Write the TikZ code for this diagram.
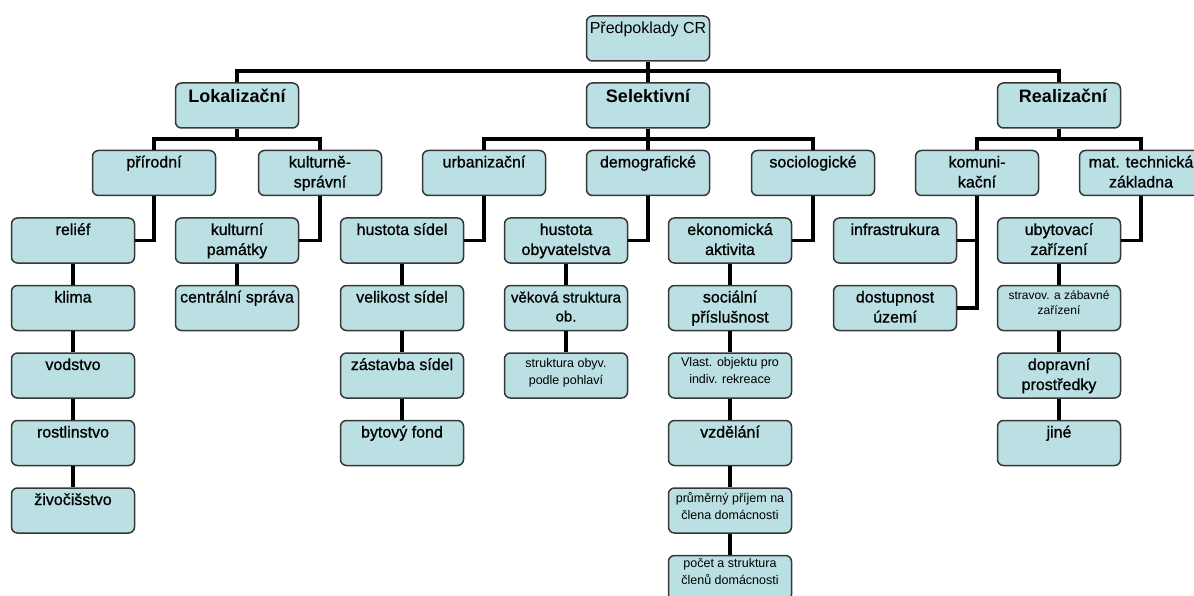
\documentclass[tikz,border=0pt]{standalone}
\usepackage{fontspec}
\setmainfont{Liberation Sans}
\newfontfamily\cellfont{Liberation Sans}[FakeBold=0.9]
\usepackage{tikz}
\definecolor{boxfill}{RGB}{186,224,227}
\definecolor{boxline}{RGB}{55,55,55}
\tikzstyle{cell}=[draw=boxline,fill=boxfill,line width=1.5pt,rounded corners=6pt,
                  inner sep=0pt,minimum width=123pt,minimum height=45pt,
                  font=\cellfont\fontsize{16}{20}\selectfont]
\tikzstyle{headcell}=[cell,font=\bfseries\fontsize{18}{22}\selectfont]
\tikzstyle{midcell}=[cell,font=\cellfont\fontsize{15}{19}\selectfont]
\tikzstyle{smallcell}=[cell,font=\fontsize{12.5}{17}\selectfont]
\tikzstyle{link}=[draw=black,line width=3.2pt]
\newcommand{\txt}[2][17pt]{\parbox[c][45pt][t]{119pt}{\centering\rule{0pt}{#1}#2}}

\begin{document}
\begin{tikzpicture}[x=1pt,y=-1pt]
    \useasboundingbox (0,0) rectangle (1194,596);
    \clip (0,0) rectangle (1194,596);
    % top levels
    \node (root) at (648,38.5) [cell,font=\fontsize{16}{20}\selectfont]{\txt[18pt]{Předpoklady CR}};
    \node (lok)  at (237,105.5) [headcell]{\txt[20pt]{Lokalizační}};
    \node (sel)  at (648,105.5) [headcell]{\txt[20pt]{Selektivní}};
    \node (real) at (1059,105.5) [headcell]{\txt[20pt]{\hspace*{8pt}Realizační}};
    \node (prir) at (154,173) [cell]{\txt{přírodní}};
    \node (kult) at (320,173) [cell]{\txt{kulturně-\\správní}};
    \node (urb)  at (484,173) [cell]{\txt{urbanizační}};
    \node (demo) at (648,173) [cell]{\txt{demografické}};
    \node (soc)  at (813,173) [cell]{\txt{sociologické}};
    \node (komu) at (977,173) [cell]{\txt{komuni-\\kační}};
    \node (mat)  at (1141,173) [cell]{\txt{mat. technická\\základna}};
    % columns
    \node (relief) at (73,240.5) [cell]{\txt{reliéf}};
    \node (klima)  at (73,308) [cell]{\txt{klima}};
    \node (vodstvo) at (73,375.5) [cell]{\txt{vodstvo}};
    \node (rostl)  at (73,443) [cell]{\txt{rostlinstvo}};
    \node (zivoc)  at (73,510.5) [cell]{\txt{živočišstvo}};
    \node (kpam) at (237,240.5) [cell]{\txt{kulturní\\památky}};
    \node (cspr) at (237,308) [cell]{\txt{centrální správa}};
    \node (hsid) at (402,240.5) [cell]{\txt{hustota sídel}};
    \node (vsid) at (402,308) [cell]{\txt{velikost sídel}};
    \node (zsid) at (402,375.5) [cell]{\txt{zástavba sídel}};
    \node (byt)  at (402,443) [cell]{\txt{bytový fond}};
    \node (hobyv) at (566,240.5) [cell]{\txt{hustota\\obyvatelstva}};
    \node (vek)   at (566,308) [midcell]{\txt{věková struktura\\ob.}};
    \node (pohl)  at (566,375.5) [smallcell]{\txt[14pt]{struktura obyv.\\podle pohlaví}};
    \node (ekon)   at (730,240.5) [cell]{\txt{ekonomická\\aktivita}};
    \node (socp)   at (730,308) [cell]{\txt{sociální\\příslušnost}};
    \node (vlast)  at (730,375.5) [smallcell]{\txt[13pt]{Vlast. objektu pro\\indiv. rekreace}};
    \node (vzdel)  at (730,443) [cell]{\txt{vzdělání}};
    \node (prijem) at (730,510.5) [smallcell]{\txt[14pt]{průměrný příjem na\\člena domácnosti}};
    \node (pocet)  at (730,578) [smallcell]{\txt[12pt]{počet a struktura\\členů domácnosti}};
    \node (infra) at (895,240.5) [cell]{\txt{infrastrukura}};
    \node (dost)  at (895,308) [cell]{\txt{dostupnost\\území}};
    \node (ubyt)   at (1059,240.5) [cell]{\txt{ubytovací\\zařízení}};
    \node (strav)  at (1059,308) [smallcell,font=\fontsize{12}{15}\selectfont]{\txt[14pt]{stravov. a zábavné\\zařízení}};
    \node (doprav) at (1059,375.5) [cell]{\txt{dopravní\\prostředky}};
    \node (jine)   at (1059,443) [cell]{\txt{jiné}};
    % buses
    \coordinate (topbus) at (648,71);
    \coordinate (lbus) at (237,139);
    \coordinate (sbus) at (648,139);
    \coordinate (rbus) at (1059,139);
    \draw[link] (root) -- (sel);
    \draw[link] (lok.north) |- (topbus) -| (real.north);
    \draw[link] (lok) -- (lbus);
    \draw[link] (prir.north) |- (lbus) -| (kult.north);
    \draw[link] (sel) -- (demo);
    \draw[link] (urb.north) |- (sbus) -| (soc.north);
    \draw[link] (real) -- (rbus);
    \draw[link] (komu.north) |- (rbus) -| (mat.north);
    % side links
    \draw[link] (prir.south) |- (relief.east);
    \draw[link] (kult.south) |- (kpam.east);
    \draw[link] (urb.south) |- (hsid.east);
    \draw[link] (demo.south) |- (hobyv.east);
    \draw[link] (soc.south) |- (ekon.east);
    \draw[link] (komu.south) |- (dost.east);
    \draw[link] (infra.east) -- (infra.east -| komu.south);
    \draw[link] (mat.south) |- (ubyt.east);
    % column links
    \draw[link] (relief) -- (klima) -- (vodstvo) -- (rostl) -- (zivoc);
    \draw[link] (kpam) -- (cspr);
    \draw[link] (hsid) -- (vsid) -- (zsid) -- (byt);
    \draw[link] (hobyv) -- (vek) -- (pohl);
    \draw[link] (ekon) -- (socp) -- (vlast) -- (vzdel) -- (prijem) -- (pocet);
    \draw[link] (ubyt) -- (strav) -- (doprav) -- (jine);
\end{tikzpicture}
\end{document}
